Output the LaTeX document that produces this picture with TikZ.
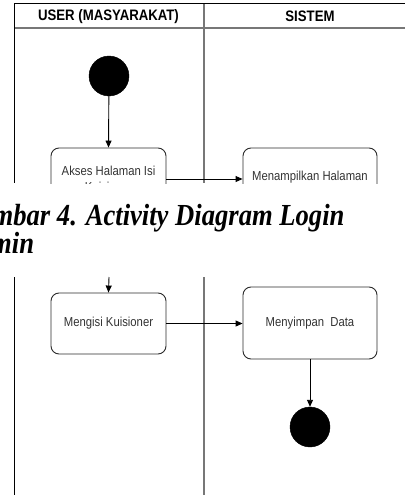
\documentclass[tikz,border=0pt]{standalone}
\usepackage{fontspec}
\newfontfamily\arialf{Liberation Sans}
\newfontfamily\timesf{Liberation Serif}
\usetikzlibrary{arrows.meta}
\definecolor{lanegray}{HTML}{777777}
\definecolor{boxline}{HTML}{2A2A2A}
\definecolor{boxtext}{HTML}{333333}
\newcommand{\tall}[1]{\scalebox{1}[1.15]{#1}}
\tikzset{
  border/.style={line width=1pt, black},
  lane/.style={line width=1.1pt, lanegray},
  hdr/.style={font=\arialf\bfseries\fontsize{13.2}{15}\selectfont, inner sep=0pt},
  actbox/.style={draw=boxline, line width=0.9pt, rounded corners=8pt, inner sep=0pt},
  acttext/.style={font=\arialf\fontsize{11.3}{13.5}\selectfont, text=boxtext, inner sep=0pt},
  dot/.style={circle, fill=black, draw=black, minimum size=40pt, inner sep=0pt},
  arr/.style={line width=0.9pt, black, -{Triangle[length=7pt,width=6pt]}},
  captxt/.style={font=\timesf\bfseries\itshape\fontsize{26.6}{28}\selectfont, inner sep=0pt},
}
\begin{document}
\begin{tikzpicture}[x=1pt,y=-1pt]
\useasboundingbox (0,0) rectangle (405,495);
\clip (0,0) rectangle (405,495);
% ---------- top part ----------
\begin{scope}
\clip (0,0) rectangle (405,183);
\draw[lane] (14,28) -- (405,28);
\draw[lane] (204,4) -- (204,183);
\draw[border] (14,4) -- (405,4);
\draw[border] (14,4) -- (14,183);
\node[hdr] (huser) at (108.5,16.5) {\tall{USER (MASYARAKAT)}};
\node[hdr] (hsis) at (310,16.5) {\tall{SISTEM}};
\node[dot] (start) at (109,76) {};
\node[actbox, minimum width=115pt, minimum height=62pt] (akses) at (108.5,179) {};
\node[acttext] (aksestxt) at (108.5,180.5) {\tall{\begin{tabular}{@{}c@{}}Akses Halaman Isi\\Kuisioner\end{tabular}}};
\node[actbox, minimum width=134pt, minimum height=72pt] (tampil) at (310,184) {};
\node[acttext] (tampiltxt) at (310,177) {\tall{Menampilkan Halaman}};
\draw[arr] (start) -- (akses.north);
\draw[arr] (akses.east) -- (akses.east -| tampil.west);
\end{scope}
% ---------- caption ----------
\node[captxt, anchor=base west] (cap1) at (-40,225) {\tall{Gambar 4. Activity Diagram Login}};
\node[captxt, anchor=base west] (cap2) at (-40,253) {\tall{Admin}};
% ---------- bottom part ----------
\draw[lane] (204,277) -- (204,495);
\draw[border] (14,277) -- (14,495);
\coordinate (intop) at (109,277);
\node[actbox, minimum width=115pt, minimum height=61pt] (isi) at (108.5,323.5) {};
\node[acttext] (isitxt) at (108.5,323) {\tall{Mengisi Kuisioner}};
\node[actbox, minimum width=134pt, minimum height=72pt] (simpan) at (310,323) {};
\node[acttext] (simpantxt) at (310,323) {\tall{Menyimpan\ \ Data}};
\node[dot] (end) at (310,427) {};
\draw[arr] (intop) -- (isi.north);
\draw[arr] (isi.east) -- (isi.east -| simpan.west);
\draw[arr] (simpan.south) -- (end.north);
\end{tikzpicture}
\end{document}
